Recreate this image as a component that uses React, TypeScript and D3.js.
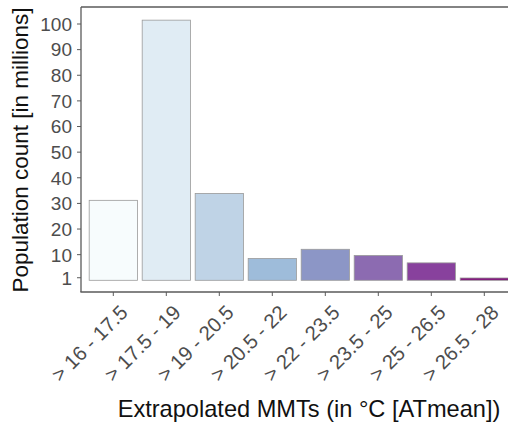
import React from "react";
import * as d3 from "d3";

const categories = [
  "> 16 - 17.5",
  "> 17.5 - 19",
  "> 19 - 20.5",
  "> 20.5 - 22",
  "> 22 - 23.5",
  "> 23.5 - 25",
  "> 25 - 26.5",
  "> 26.5 - 28",
];
const population = [31.2, 101.5, 33.9, 8.5, 12.1, 9.7, 6.8, 0.9];
const barColors = ["#f7fcfd", "#e0ecf4", "#bfd3e6", "#9ebcda", "#8c96c6", "#8c6bb1", "#88419d", "#810f7c"];
const yTicks = [1, 10, 20, 30, 40, 50, 60, 70, 80, 90, 100];

const W = 508;
const H = 425;
const panel = { left: 81, top: 7, right: 530, bottom: 292 };

export default function App() {
  const x = d3
    .scaleBand<string>()
    .domain(categories)
    .range([86.8, 510.8])
    .paddingInner(0.09)
    .paddingOuter(0.045);
  const y = d3.scaleLinear().domain([0, 100]).range([280.3, 24]);
  const font = "'Liberation Sans', Arial, sans-serif";
  const tickColor = "#4d4d4d";

  return (
    <div style={{ position: "absolute", left: 0, top: 0 }}>
      <svg width={W} height={H} style={{ display: "block", background: "#fff" }}>
        <rect x={0} y={0} width={W} height={H} fill="#fff" />
        {/* panel border */}
        <line x1={panel.left} x2={panel.right} y1={panel.top} y2={panel.top} stroke="#5a5a5a" strokeWidth={1.3} />
        <line x1={panel.left} x2={panel.left} y1={panel.top} y2={panel.bottom} stroke="#5a5a5a" strokeWidth={1.3} />
        <line x1={panel.left - 0.6} x2={panel.right} y1={panel.bottom} y2={panel.bottom} stroke="#5a5a5a" strokeWidth={1.6} />

        {/* bars */}
        {categories.map((c, i) => (
          <rect
            key={c}
            x={x(c)!}
            y={y(population[i])}
            width={x.bandwidth()}
            height={y(0) - y(population[i])}
            fill={barColors[i]}
            stroke="#9a9a9a"
            strokeWidth={0.8}
          />
        ))}

        {/* y axis */}
        {yTicks.map((t) => (
          <g key={t}>
            <line x1={panel.left - 4} x2={panel.left} y1={y(t)} y2={y(t)} stroke="#5a5a5a" strokeWidth={1} />
            <text
              x={panel.left - 9}
              y={y(t)}
              dy="0.36em"
              textAnchor="end"
              fontFamily={font}
              fontSize={19}
              fill={tickColor}
            >
              {t}
            </text>
          </g>
        ))}

        {/* x axis */}
        {categories.map((c) => {
          const cx = x(c)! + x.bandwidth() / 2;
          return (
            <g key={c}>
              <line x1={cx} x2={cx} y1={panel.bottom} y2={panel.bottom + 4} stroke="#5a5a5a" strokeWidth={1} />
              <text
                transform={`translate(${cx + 5},${panel.bottom + 11}) rotate(-45)`}
                textAnchor="end"
                dy="0.75em"
                fontFamily={font}
                fontSize={20.3}
                fill={tickColor}
              >
                {c}
              </text>
            </g>
          );
        })}

        {/* axis titles */}
        <text
          x={309}
          y={417}
          textAnchor="middle"
          fontFamily={font}
          fontSize={23.6}
          fill="#111"
        >
          Extrapolated MMTs (in °C [ATmean])
        </text>
        <text
          transform={`translate(28,150) rotate(-90)`}
          textAnchor="middle"
          fontFamily={font}
          fontSize={22.5}
          fill="#111"
        >
          Population count [in millions]
        </text>
      </svg>
    </div>
  );
}
